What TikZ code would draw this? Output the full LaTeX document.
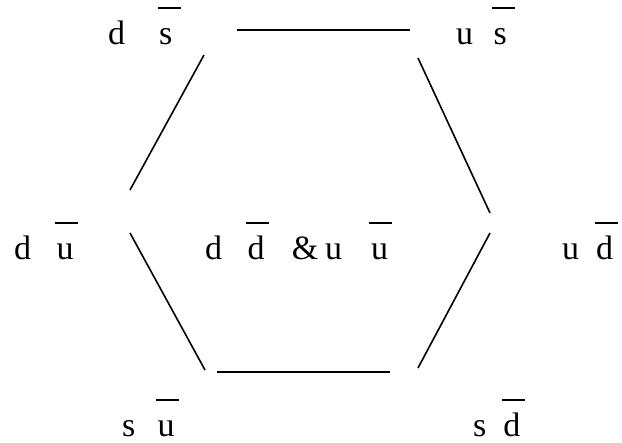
\documentclass[tikz,border=0pt]{standalone}
\usepackage{fontspec}
\setmainfont{Liberation Serif}
\usepackage{tikz}
\usetikzlibrary{positioning,calc}

% antiquark: letter with a fixed-height bar over it
\newcommand{\anti}[1]{\rlap{\kern-0.05em\rule[1.07em]{0.68em}{0.05em}}#1}

\tikzset{
  quark/.style={anchor=base west, inner sep=0pt, font=\fontsize{34}{40}\selectfont},
  edge/.style={line width=1.6pt}
}

\begin{document}
\begin{tikzpicture}[x=1pt, y=-1pt]
  \useasboundingbox (0,0) rectangle (622,443);

  % Corner states
  \node[quark] (ds) at (108,45)  {d\hspace{1.0em}\anti{s}};
  \node[quark] (us) at (456,45)  {u\hspace{0.6em}\anti{s}};
  \node[quark] (du) at (14,260)  {d\hspace{0.75em}\anti{u}};
  \node[quark] (ud) at (562,260) {u\hspace{0.5em}\anti{d}};
  \node[quark] (su) at (122,437) {s\hspace{0.65em}\anti{u}};
  \node[quark] (sd) at (473,437) {s\hspace{0.5em}\anti{d}};

  % Centre state
  \node[quark] (mid) at (205,260) {d\hspace{0.75em}\anti{d}\hspace{0.8em}\&\hspace{0.2em}u\hspace{0.85em}\anti{u}};

  % Hexagon edges
  \coordinate (t1) at (237,30);  \coordinate (t2) at (410,30);
  \coordinate (l1) at (204,55);  \coordinate (l2) at (130,190);
  \coordinate (r1) at (418,58);  \coordinate (r2) at (490,213);
  \coordinate (l3) at (130,233); \coordinate (l4) at (205,370);
  \coordinate (r3) at (490,233); \coordinate (r4) at (418,368);
  \coordinate (b1) at (217,372); \coordinate (b2) at (390,372);
  \foreach \a/\b in {t1/t2,l1/l2,r1/r2,l3/l4,r3/r4,b1/b2}
    \draw[edge] (\a) -- (\b);
\end{tikzpicture}
\end{document}
